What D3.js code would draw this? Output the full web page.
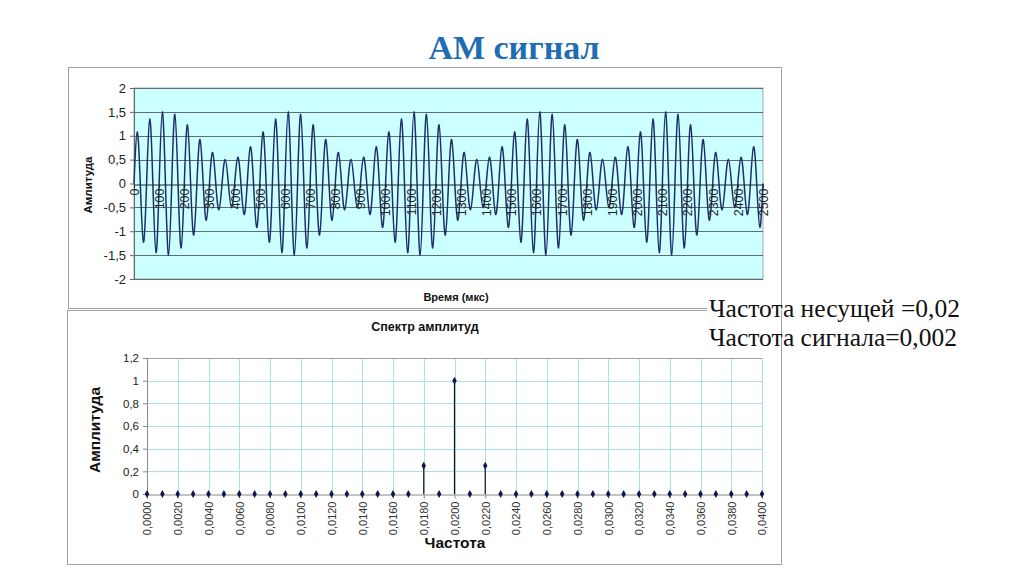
<!DOCTYPE html>
<html>
<head>
<meta charset="utf-8">
<script src="https://cdn.jsdelivr.net/npm/d3@7"></script>
<style>
  html, body { margin: 0; padding: 0; background: #ffffff; }
  svg { display: block; }
</style>
</head>
<body>
<svg id="chart" width="1024" height="574"></svg>
<script>
// ---------------- DATA ----------------
// Time-domain AM signal: extreme value of each carrier half-cycle (period 50 мкс)
const signalPeaks = [
  1.08, 1.35, 1.50, 1.45, 1.23, 0.92, 0.65, 0.51, 0.55, 0.77,
  1.08, 1.35, 1.50, 1.45, 1.23, 0.92, 0.65, 0.51, 0.55, 0.77,
  1.08, 1.35, 1.50, 1.45, 1.23, 0.92, 0.65, 0.51, 0.55, 0.77,
  1.08, 1.35, 1.50, 1.45, 1.23, 0.92, 0.65, 0.51, 0.55, 0.77,
  1.08, 1.35, 1.50, 1.45, 1.23, 0.92, 0.65, 0.51, 0.55, 0.77
];
const signalTroughs = [
  -1.23, -1.45, -1.50, -1.35, -1.08, -0.77, -0.55, -0.51, -0.65, -0.92,
  -1.23, -1.45, -1.50, -1.35, -1.08, -0.77, -0.55, -0.51, -0.65, -0.92,
  -1.23, -1.45, -1.50, -1.35, -1.08, -0.77, -0.55, -0.51, -0.65, -0.92,
  -1.23, -1.45, -1.50, -1.35, -1.08, -0.77, -0.55, -0.51, -0.65, -0.92,
  -1.23, -1.45, -1.50, -1.35, -1.08, -0.77, -0.55, -0.51, -0.65, -0.92
];
const carrierPeriod = 50;           // мкс
const timeTicks = [0,100,200,300,400,500,600,700,800,900,1000,1100,1200,1300,
                   1400,1500,1600,1700,1800,1900,2000,2100,2200,2300,2400,2500];
const ampTicks = [-2,-1.5,-1,-0.5,0,0.5,1,1.5,2];

// Spectrum
const freqs = [0.000,0.001,0.002,0.003,0.004,0.005,0.006,0.007,0.008,0.009,
               0.010,0.011,0.012,0.013,0.014,0.015,0.016,0.017,0.018,0.019,
               0.020,0.021,0.022,0.023,0.024,0.025,0.026,0.027,0.028,0.029,
               0.030,0.031,0.032,0.033,0.034,0.035,0.036,0.037,0.038,0.039,0.040];
const spectrum = [0,0,0,0,0,0,0,0,0,0,
                  0,0,0,0,0,0,0,0,0.25,0,
                  1,0,0.25,0,0,0,0,0,0,0,
                  0,0,0,0,0,0,0,0,0,0,0];
const freqTicks = [0.000,0.002,0.004,0.006,0.008,0.010,0.012,0.014,0.016,0.018,0.020,
                   0.022,0.024,0.026,0.028,0.030,0.032,0.034,0.036,0.038,0.040];
const specTicks = [0,0.2,0.4,0.6,0.8,1,1.2];

const titleText = "АМ сигнал";
const noteLines = ["Частота несущей =0,02", "Частота сигнала=0,002"];

// ---------------- DRAW ----------------
const svg = d3.select("#chart");
const comma = s => s.replace(".", ",");
const sans = "'Liberation Sans', Arial, sans-serif";

// Title
svg.append("text").attr("x", 514).attr("y", 59).attr("text-anchor", "middle")
  .attr("font-family", "'Liberation Serif', 'Times New Roman', serif")
  .attr("font-weight", "bold").attr("font-size", 34).attr("fill", "#1f6db2")
  .text(titleText);

// Frames
svg.append("rect").attr("x", 68.5).attr("y", 67.5).attr("width", 713).attr("height", 241)
  .attr("fill", "#fff").attr("stroke", "#a0a0a0");
svg.append("rect").attr("x", 67.5).attr("y", 310.5).attr("width", 714).attr("height", 254)
  .attr("fill", "#fff").attr("stroke", "#a0a0a0");

// ===== Top chart =====
const xT = d3.scaleLinear().domain([0, 2500]).range([134, 763]);
const yT = d3.scaleLinear().domain([-2, 2]).range([279, 88]);

svg.append("rect").attr("x", xT(0)).attr("y", yT(2))
  .attr("width", xT(2500) - xT(0)).attr("height", yT(-2) - yT(2))
  .attr("fill", "#ccffff").attr("stroke", "#a0a8a8");

const gT = svg.append("g");
gT.selectAll("line.grid").data(ampTicks.filter(d => d !== 0)).join("line")
  .attr("x1", xT(0)).attr("x2", xT(2500))
  .attr("y1", d => Math.round(yT(d)) + 0.5).attr("y2", d => Math.round(yT(d)) + 0.5)
  .attr("stroke", "#5e6e6e").attr("stroke-width", 1);

// y axis
const yAxisT = d3.axisLeft(yT).tickValues(ampTicks).tickSize(4)
  .tickFormat(d => comma(String(d)));
const gyT = svg.append("g").attr("transform", `translate(${xT(0)},0)`).call(yAxisT);
gyT.select(".domain").attr("stroke", "#666");
gyT.selectAll(".tick line").attr("stroke", "#666");
gyT.selectAll(".tick text").attr("font-family", sans).attr("font-size", 13)
  .attr("fill", "#222").attr("x", -8);

// signal points
const sigPts = [];
signalPeaks.forEach((p, k) => {
  const t0 = k * carrierPeriod;
  sigPts.push([t0, 0], [t0 + carrierPeriod / 4, p], [t0 + carrierPeriod / 2, 0],
              [t0 + 3 * carrierPeriod / 4, signalTroughs[k]]);
});
sigPts.push([2500, 0]);

svg.append("path").datum(sigPts)
  .attr("d", d3.line().x(d => xT(d[0])).y(d => yT(d[1])).curve(d3.curveNatural))
  .attr("fill", "none").attr("stroke", "#1c2f6b").attr("stroke-width", 1.5);

// x axis at 0
const xAxisT = d3.axisBottom(xT).tickValues(timeTicks).tickSize(3).tickFormat(d => d);
const gxT = svg.append("g").attr("transform", `translate(0,${Math.round(yT(0)) + 0.5})`).call(xAxisT);
gxT.select(".domain").attr("stroke", "#222");
gxT.selectAll(".tick line").attr("stroke", "#222");
gxT.selectAll(".tick text").attr("font-family", sans).attr("font-size", 12.5).attr("fill", "#222")
  .attr("transform", "rotate(-90)").attr("text-anchor", "end")
  .attr("x", -4).attr("y", 0).attr("dy", "0.35em");

svg.append("text").attr("transform", `translate(92,185) rotate(-90)`)
  .attr("text-anchor", "middle").attr("font-family", sans).attr("font-weight", "bold")
  .attr("font-size", 11.5).attr("fill", "#111").text("Амлитуда");
svg.append("text").attr("x", 456).attr("y", 301).attr("text-anchor", "middle")
  .attr("font-family", sans).attr("font-weight", "bold").attr("font-size", 11)
  .attr("fill", "#111").text("Время (мкс)");

// ===== Bottom chart =====
const xB = d3.scaleLinear().domain([0, 0.04]).range([147, 762]);
const yB = d3.scaleLinear().domain([0, 1.2]).range([494, 358]);

svg.append("text").attr("x", 425).attr("y", 331).attr("text-anchor", "middle")
  .attr("font-family", sans).attr("font-weight", "bold").attr("font-size", 12.5)
  .attr("fill", "#111").text("Спектр амплитуд");

const gB = svg.append("g");
gB.selectAll("line.vg").data(freqTicks.slice(1)).join("line")
  .attr("x1", d => Math.round(xB(d)) + 0.5).attr("x2", d => Math.round(xB(d)) + 0.5)
  .attr("y1", yB(1.2)).attr("y2", yB(0))
  .attr("stroke", "#a6e2e6").attr("stroke-width", 1);
gB.selectAll("line.hg").data(specTicks.slice(1)).join("line")
  .attr("x1", xB(0)).attr("x2", xB(0.04))
  .attr("y1", d => Math.round(yB(d)) + 0.5).attr("y2", d => Math.round(yB(d)) + 0.5)
  .attr("stroke", d => d === 1.2 ? "#a0a0a0" : "#a6e2e6").attr("stroke-width", 1);

const yAxisB = d3.axisLeft(yB).tickValues(specTicks).tickSize(4)
  .tickFormat(d => comma(String(d)));
const gyB = svg.append("g").attr("transform", `translate(${xB(0)},0)`).call(yAxisB);
gyB.select(".domain").attr("stroke", "#888");
gyB.selectAll(".tick line").attr("stroke", "#888");
gyB.selectAll(".tick text").attr("font-family", sans).attr("font-size", 11.5)
  .attr("fill", "#222").attr("x", -8);

const xAxisB = d3.axisBottom(xB).tickValues(freqTicks).tickSize(4)
  .tickFormat(d => comma(d3.format(".4f")(d)));
const gxB = svg.append("g").attr("transform", `translate(0,${Math.round(yB(0)) + 0.5})`).call(xAxisB);
gxB.select(".domain").attr("stroke", "#888");
gxB.selectAll(".tick line").attr("stroke", "#888");
gxB.selectAll(".tick text").attr("font-family", sans).attr("font-size", 11).attr("fill", "#333")
  .attr("transform", "rotate(-90)").attr("text-anchor", "end")
  .attr("x", -7).attr("y", 0).attr("dy", "0.35em");

// stems
svg.selectAll("line.stem").data(freqs.map((f, i) => [f, spectrum[i]]).filter(d => d[1] > 0))
  .join("line")
  .attr("x1", d => xB(d[0])).attr("x2", d => xB(d[0]))
  .attr("y1", d => yB(0)).attr("y2", d => yB(d[1]))
  .attr("stroke", "#111").attr("stroke-width", 1.2);
// markers
svg.selectAll("path.mk").data(freqs.map((f, i) => [f, spectrum[i]])).join("path")
  .attr("d", d3.symbol().type(d3.symbolDiamond).size(18))
  .attr("transform", d => `translate(${xB(d[0])},${yB(d[1])})`)
  .attr("fill", "#141450");

svg.append("text").attr("transform", `translate(100,430) rotate(-90)`)
  .attr("text-anchor", "middle").attr("font-family", sans).attr("font-weight", "bold")
  .attr("font-size", 15.5).attr("fill", "#111").text("Амплитуда");
svg.append("text").attr("x", 455).attr("y", 548).attr("text-anchor", "middle")
  .attr("font-family", sans).attr("font-weight", "bold").attr("font-size", 15.5)
  .attr("fill", "#111").text("Частота");

// ===== Notes =====
svg.append("rect").attr("x", 707).attr("y", 302).attr("width", 74).attr("height", 14).attr("fill", "#fff");
svg.selectAll("text.note").data(noteLines).join("text")
  .attr("x", 709).attr("y", (d, i) => 317 + i * 29)
  .attr("font-family", "'Liberation Serif', 'Times New Roman', serif")
  .attr("font-size", 25.5).attr("fill", "#111").text(d => d);
</script>
</body>
</html>
